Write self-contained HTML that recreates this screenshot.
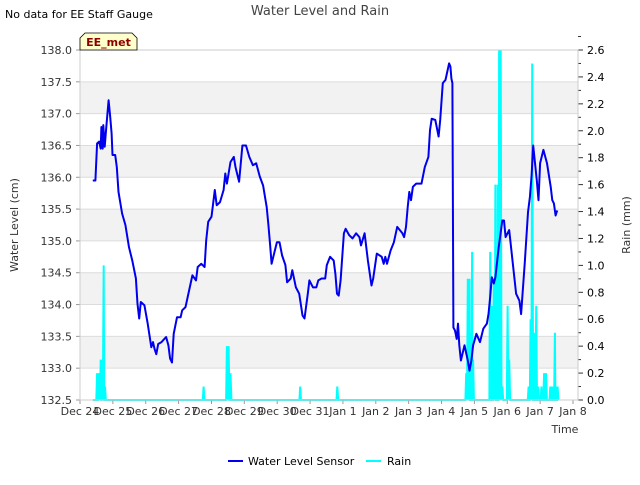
<!DOCTYPE html>
<html><head><meta charset="utf-8"><style>
body{margin:0;background:#fff;font-family:"Liberation Sans","DejaVu Sans",sans-serif;}
svg text{font-family:"DejaVu Sans","Liberation Sans",sans-serif;}
</style></head><body>
<svg id="chart" width="640" height="480" xmlns="http://www.w3.org/2000/svg">
<text x="5" y="18" font-size="11" fill="#000">No data for EE Staff Gauge</text>
<text x="320" y="15" font-size="13" fill="#444" text-anchor="middle">Water Level and Rain</text>
<g id="bands"></g>
<g id="grid"></g>
<g id="rain"></g>
<g id="level"></g>
<g id="axes"></g>
<g>
<path d="M80,50 L80,38 L85,33 L132,33 L137,38 L137,50 Z" fill="#ffffcc" stroke="#000" stroke-width="0.8"/>
<text x="108.5" y="46" font-size="11" font-weight="bold" fill="#8b0000" text-anchor="middle">EE_met</text>
</g>
<text transform="translate(18,225) rotate(-90)" font-size="11" fill="#333" text-anchor="middle">Water Level (cm)</text>
<text transform="translate(630,225) rotate(-90)" font-size="11" fill="#333" text-anchor="middle">Rain (mm)</text>
<text x="565" y="433" font-size="11" fill="#333" text-anchor="middle">Time</text>
<g>
<g>
<line x1="228" y1="461" x2="243" y2="461" stroke="#0000ee" stroke-width="2"/>
<text x="248" y="465" font-size="11" fill="#000">Water Level Sensor</text></g>
<g>
<line x1="366" y1="461" x2="381" y2="461" stroke="#00ffff" stroke-width="2"/>
<text x="387" y="465" font-size="11" fill="#000">Rain</text></g>
</g>
</svg>
<script>
const xTickLabels=["Dec 24","Dec 25","Dec 26","Dec 27","Dec 28","Dec 29","Dec 30","Dec 31","Jan 1","Jan 2","Jan 3","Jan 4","Jan 5","Jan 6","Jan 7","Jan 8"];
const levelTicks=[132.5,133.0,133.5,134.0,134.5,135.0,135.5,136.0,136.5,137.0,137.5,138.0];
const rainTicks=[0,0.2,0.4,0.6,0.8,1.0,1.2,1.4,1.6,1.8,2.0,2.2,2.4,2.6];
const levelDays=[0.39,0.47,0.52,0.58,0.63,0.65,0.69,0.71,0.75,0.80,0.87,0.92,0.96,0.99,1.07,1.12,1.17,1.28,1.38,1.49,1.59,1.70,1.75,1.80,1.85,1.96,2.06,2.17,2.22,2.27,2.32,2.38,2.48,2.62,2.69,2.74,2.80,2.85,2.95,3.06,3.11,3.21,3.32,3.42,3.53,3.58,3.69,3.79,3.84,3.90,4.00,4.10,4.16,4.26,4.37,4.42,4.47,4.52,4.58,4.68,4.73,4.84,4.94,5.05,5.15,5.26,5.36,5.47,5.57,5.68,5.73,5.78,5.83,5.88,5.99,6.07,6.15,6.25,6.30,6.41,6.46,6.57,6.67,6.77,6.83,6.93,6.98,7.09,7.19,7.25,7.35,7.46,7.51,7.61,7.72,7.77,7.82,7.87,7.93,8.03,8.08,8.19,8.29,8.40,8.50,8.55,8.66,8.76,8.87,8.92,9.03,9.18,9.24,9.29,9.34,9.45,9.55,9.65,9.81,9.86,9.92,9.97,10.02,10.07,10.13,10.23,10.39,10.49,10.60,10.65,10.70,10.81,10.91,10.96,11.04,11.12,11.23,11.27,11.30,11.33,11.36,11.41,11.46,11.50,11.54,11.59,11.70,11.80,11.85,11.91,11.96,12.06,12.17,12.27,12.38,12.43,12.48,12.53,12.59,12.64,12.74,12.85,12.90,12.95,13.06,13.16,13.27,13.37,13.42,13.53,13.63,13.69,13.74,13.79,13.90,13.95,14.00,14.10,14.21,14.32,14.37,14.42,14.47,14.52];
const levelValues=[135.95,135.95,136.53,136.56,136.45,136.79,136.45,136.82,136.48,136.79,137.21,136.95,136.69,136.35,136.35,136.16,135.77,135.43,135.25,134.90,134.69,134.41,134.01,133.78,134.04,133.99,133.70,133.33,133.41,133.30,133.22,133.38,133.41,133.49,133.36,133.15,133.09,133.54,133.80,133.80,133.91,133.96,134.22,134.46,134.38,134.59,134.64,134.59,135.01,135.30,135.38,135.80,135.56,135.61,135.80,136.06,135.90,136.06,136.24,136.32,136.16,135.93,136.50,136.50,136.32,136.19,136.22,136.01,135.87,135.53,135.27,134.96,134.64,134.75,134.98,134.98,134.77,134.62,134.35,134.41,134.54,134.27,134.17,133.83,133.78,134.17,134.38,134.27,134.27,134.38,134.41,134.41,134.62,134.75,134.69,134.48,134.17,134.14,134.38,135.12,135.19,135.09,135.04,135.12,135.06,134.93,135.12,134.69,134.30,134.41,134.80,134.75,134.64,134.75,134.64,134.85,134.98,135.22,135.12,135.06,135.22,135.53,135.77,135.64,135.85,135.90,135.90,136.16,136.32,136.74,136.92,136.90,136.64,136.90,137.48,137.53,137.79,137.74,137.55,137.48,133.64,133.59,133.46,133.70,133.36,133.12,133.36,133.12,132.96,133.12,133.36,133.54,133.41,133.62,133.70,133.85,134.12,134.43,134.33,134.43,134.90,135.32,135.32,135.06,135.17,134.69,134.17,134.06,133.85,134.64,135.45,135.69,136.03,136.50,135.95,135.64,136.22,136.43,136.22,135.85,135.64,135.59,135.40,135.48];
const rainDays=[0.52,0.58,0.63,0.67,0.72,0.76,3.76,4.47,4.52,4.58,6.70,7.83,11.75,11.80,11.85,11.88,11.93,11.96,12.46,12.48,12.53,12.59,12.64,12.67,12.71,12.75,12.80,12.85,13.01,13.06,13.65,13.71,13.76,13.82,13.88,13.94,14.04,14.12,14.18,14.31,14.37,14.45,14.49,14.53];
const rainValues=[0.2,0.2,0.3,0.3,1.0,0.1,0.1,0.4,0.4,0.2,0.1,0.1,0.2,0.9,0.9,0.5,1.1,0.3,0.3,1.1,0.7,0.9,1.6,0.7,1.6,2.6,2.6,0.1,0.7,0.3,0.1,0.6,2.5,0.5,0.7,0.1,0.1,0.2,0.2,0.1,0.1,0.5,0.1,0.1];

const NS="http://www.w3.org/2000/svg";
const L=80,R=578,T=50,B=400;
const dayW=(573-80)/15;
const x=d=>L+d*dayW;
const yL=v=>B-(v-132.5)/5.5*(B-T);
const yR=v=>B-v/2.6*(B-T);
function mk(tag,attrs,parent){const e=document.createElementNS(NS,tag);for(const k in attrs)e.setAttribute(k,attrs[k]);parent.appendChild(e);return e;}
const bands=document.getElementById('bands'),grid=document.getElementById('grid'),axes=document.getElementById('axes');
mk('rect',{x:L,y:T,width:R-L,height:B-T,fill:'#fff'},bands);
for(let i=0;i<levelTicks.length-1;i++){
  if(i%2===1){const r=mk('rect',{x:L,y:yL(levelTicks[i+1]),width:R-L,height:yL(levelTicks[i])-yL(levelTicks[i+1]),fill:'#f2f2f2'},bands);
  
  }
}
levelTicks.forEach(v=>{
  const g=mk('line',{x1:L,x2:R,y1:yL(v),y2:yL(v),stroke:'#dcdcdc','stroke-width':1},grid);
  
  
  mk('line',{x1:L-4,x2:L,y1:yL(v),y2:yL(v),stroke:'#999'},axes);
  const t=mk('text',{x:L-8,y:yL(v)+4,'font-size':11,fill:'#333','text-anchor':'end'},axes);
  t.textContent=v.toFixed(1);
  
  
});
rainTicks.forEach(v=>{
  mk('line',{x1:R,x2:R+5,y1:yR(v),y2:yR(v),stroke:'#333'},axes);
  mk('line',{x1:R,x2:R+3,y1:yR(v+0.1),y2:yR(v+0.1),stroke:'#333'},axes);
  const t=mk('text',{x:R+9,y:yR(v)+4,'font-size':11,fill:'#000'},axes);
  t.textContent=v.toFixed(1);
  
  
});
xTickLabels.forEach((s,i)=>{
  mk('line',{x1:x(i),x2:x(i),y1:B,y2:B+4,stroke:'#999'},axes);
  const t=mk('text',{x:x(i),y:B+15,'font-size':11,fill:'#333','text-anchor':'middle'},axes);
  t.textContent=s;
  
  
});
mk('rect',{x:L,y:T,width:R-L,height:B-T,fill:'none',stroke:'#ccc'},axes);
// rain
const rp=[[levelDays[0],0]];
rainDays.forEach((d,i)=>{rp.push([d-0.025,0],[d,rainValues[i]],[d+0.025,0]);});
rp.push([levelDays[levelDays.length-1],0]);
rp.sort((a,b)=>a[0]-b[0]);
const rl=mk('polyline',{points:rp.map(p=>x(p[0]).toFixed(1)+','+yR(p[1]).toFixed(1)).join(' '),fill:'none',stroke:'#00ffff','stroke-width':2},document.getElementById('rain'));


const ll=mk('polyline',{points:levelDays.map((d,i)=>x(d).toFixed(1)+','+yL(levelValues[i]).toFixed(1)).join(' '),fill:'none',stroke:'#0000ee','stroke-width':2,'stroke-linejoin':'round'},document.getElementById('level'));


</script>
</body></html>
